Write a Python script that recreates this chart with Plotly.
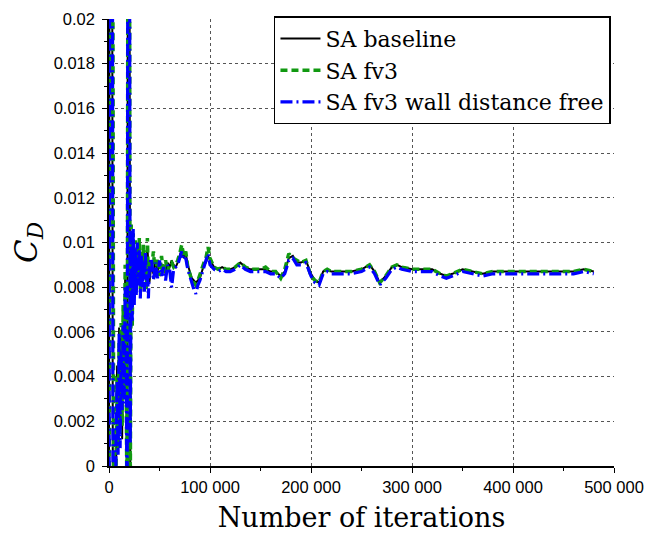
import plotly.graph_objects as go

# ---------------- data ----------------
iterations = [
    0, 1000, 2000, 3000, 4000, 5000, 6000, 7000, 8000, 9000,
    10000, 11000, 12000, 13000, 14000, 15000, 16000, 17000, 18000, 19000,
    20000, 21000, 22000, 23000, 24000, 25000, 26000, 27000, 28000, 29000,
    30000, 31000, 32000, 33000, 34000, 35000, 36000, 37000, 38000, 39000,
    40000,
    42000, 44000, 46000, 48000, 50000, 52000, 54000, 56000, 58000, 60000,
    62000, 64000, 66000, 68000, 70000, 72000, 74000, 76000, 78000, 80000,
    82000, 84000, 86000, 88000, 90000, 92000, 94000, 96000, 98000, 100000,
    104000, 108000, 112000, 116000, 120000,
    125000, 130000, 135000, 140000, 145000, 150000, 155000, 160000, 165000, 170000,
    174000, 178000, 182000, 186000, 190000,
    195000, 200000,
    204000, 208000, 212000, 216000, 220000,
    230000, 240000, 250000,
    258000, 263000, 268000, 274000, 280000, 285000, 290000,
    300000, 310000, 320000,
    328000, 334000,
    340000, 350000, 360000, 370000, 380000, 390000, 400000, 410000, 420000, 430000,
    440000, 450000, 460000, 470000, 480000,
]

cd_baseline = [
    0.0, 0.05, 0.045, 0.03, -0.01, -0.015, -0.005, 0.001, 0.0045, 0.0015,
    0.0062, 0.0022, 0.0058, 0.0012, 0.0068, 0.0035, 0.0085, 0.0048, -0.003, 0.04,
    0.035, 0.0, 0.0105, 0.0075, 0.0098, 0.0082, 0.0095, 0.0085, 0.0093, 0.0099,
    0.0084, 0.0092, 0.0078, 0.0090, 0.0086, 0.0094, 0.0088, 0.0091, 0.0098, 0.0087,
    0.0082,
    0.0090, 0.0086, 0.0092, 0.0087, 0.0091, 0.0088, 0.0090, 0.0086, 0.0091, 0.0089,
    0.0092, 0.0090, 0.0089, 0.0091, 0.0094, 0.0097, 0.0093, 0.0095, 0.0090, 0.0087,
    0.0084, 0.0083, 0.0082, 0.0083, 0.0084, 0.0087, 0.0090, 0.0091, 0.0094, 0.0092,
    0.0089, 0.0088, 0.0089, 0.0088, 0.0088,
    0.0089, 0.0091, 0.0089, 0.0088, 0.0088, 0.0088, 0.0088, 0.0087, 0.0087, 0.0085,
    0.0087, 0.0093, 0.0094, 0.0091, 0.0091,
    0.0092, 0.0086,
    0.0083, 0.0082, 0.0087, 0.0088, 0.0087,
    0.0087, 0.0087, 0.0088,
    0.0090, 0.0087, 0.0082, 0.0085, 0.0089, 0.0090, 0.0089,
    0.0088, 0.0088, 0.0088,
    0.0086, 0.0085,
    0.0086, 0.0088, 0.0087, 0.0086, 0.0087, 0.0087, 0.0087, 0.0087, 0.0087, 0.0087,
    0.0087, 0.0087, 0.0087, 0.0088, 0.0087,
]

cd_fv3 = [
    -0.005, 0.04, 0.05, 0.045, 0.0, -0.01, -0.004, 0.0005, 0.004, 0.0008,
    0.0055, 0.0015, 0.0064, 0.0018, 0.0072, 0.003, 0.009, 0.0042, -0.004, 0.038,
    0.04, -0.002, 0.0108, 0.0062, 0.0104, 0.0078, 0.0101, 0.0080, 0.0097, 0.0086,
    0.0102, 0.0079, 0.0096, 0.0083, 0.0099, 0.0085, 0.0095, 0.0079, 0.0102, 0.0084,
    0.0093,
    0.0088, 0.0096, 0.0084, 0.0093, 0.0085, 0.0094, 0.0086, 0.0092, 0.0087, 0.0090,
    0.0091, 0.0089, 0.0090, 0.0092, 0.0095, 0.0099, 0.0094, 0.0096, 0.0089, 0.0086,
    0.0083, 0.0082, 0.0081, 0.0083, 0.0086, 0.0088, 0.0091, 0.0093, 0.0098, 0.0093,
    0.0089, 0.0088, 0.0089, 0.0088, 0.0088,
    0.0089, 0.0091, 0.0089, 0.0088, 0.0088, 0.0088, 0.0089, 0.0087, 0.0087, 0.0084,
    0.0088, 0.0095, 0.0093, 0.0092, 0.0091,
    0.0092, 0.0085,
    0.0083, 0.0082, 0.0087, 0.0088, 0.0087,
    0.0087, 0.0087, 0.0088,
    0.0090, 0.0087, 0.0082, 0.0085, 0.0089, 0.0090, 0.0089,
    0.0088, 0.0088, 0.0088,
    0.0086, 0.0085,
    0.0086, 0.0088, 0.0087, 0.0086, 0.0087, 0.0087, 0.0087, 0.0087, 0.0087, 0.0087,
    0.0087, 0.0087, 0.0087, 0.0088, 0.0087,
]

cd_fv3_wdf = [
    -0.008, 0.042, 0.05, 0.042, -0.002, -0.012, -0.006, 0.0012, 0.0038, 0.0005,
    0.0060, 0.0008, 0.0052, 0.0025, 0.0063, 0.0028, 0.0080, 0.0055, -0.004, 0.042,
    0.038, 0.001, 0.0100, 0.0065, 0.0106, 0.0072, 0.0098, 0.0076, 0.0100, 0.0081,
    0.0097, 0.0075, 0.0094, 0.0080, 0.0092, 0.0078, 0.0096, 0.0083, 0.0088, 0.0075,
    0.0090,
    0.0093, 0.0083, 0.0091, 0.0084, 0.0092, 0.0085, 0.0089, 0.0083, 0.0090, 0.0088,
    0.0080, 0.0088, 0.0089, 0.0090, 0.0093, 0.0096, 0.0092, 0.0093, 0.0088, 0.0085,
    0.0081, 0.0079, 0.0077, 0.0081, 0.0083, 0.0086, 0.0089, 0.0092, 0.0095, 0.0090,
    0.0088, 0.0087, 0.0088, 0.0087, 0.0087,
    0.0088, 0.0090, 0.0088, 0.0087, 0.0087, 0.0087, 0.0087, 0.0086, 0.0086, 0.0084,
    0.0086, 0.0092, 0.0093, 0.0090, 0.0090,
    0.0091, 0.0085,
    0.0082, 0.0081, 0.0086, 0.0087, 0.0086,
    0.0086, 0.0086, 0.0087,
    0.0089, 0.0086, 0.0081, 0.0084, 0.0088, 0.0089, 0.0088,
    0.0087, 0.0087, 0.0087,
    0.0085, 0.0084,
    0.0085, 0.0087, 0.0086, 0.0085, 0.0086, 0.0086, 0.0086, 0.0086, 0.0086, 0.0086,
    0.0086, 0.0086, 0.0086, 0.0087, 0.0086,
]

series_names = ["SA baseline", "SA fv3", "SA fv3 wall distance free"]

y_tick_values = [0, 0.002, 0.004, 0.006, 0.008, 0.01, 0.012, 0.014, 0.016, 0.018, 0.02]
y_tick_labels = ["0", "0.002", "0.004", "0.006", "0.008", "0.01", "0.012", "0.014", "0.016", "0.018", "0.02"]

assert len(iterations) == len(cd_baseline) == len(cd_fv3) == len(cd_fv3_wdf)

SERIF = "DejaVu Serif, Liberation Serif, serif"
SANS = "Liberation Sans, Arial, sans-serif"

fig = go.Figure()
fig.add_trace(go.Scatter(x=iterations, y=cd_baseline, mode="lines", name=series_names[0],
                         line=dict(color="black", width=2)))
fig.add_trace(go.Scatter(x=iterations, y=cd_fv3, mode="lines", name=series_names[1],
                         line=dict(color="#119911", width=3.5, dash="7px,4px")))
fig.add_trace(go.Scatter(x=iterations, y=cd_fv3_wdf, mode="lines", name=series_names[2],
                         line=dict(color="#0000ff", width=3.2, dash="12px,4px,2px,4px")))

axis_common = dict(
    showgrid=True, gridcolor="#555555", gridwidth=1, griddash="dot",
    showline=True, linecolor="black", linewidth=1.5,
    ticks="outside", ticklen=5, tickcolor="black",
    zeroline=False, automargin=False,
    ticklabeloverflow="allow",
    tickfont=dict(family=SANS, size=16.5, color="black"),
)

# the page body adds an offset of a few pixels; margins compensate for it
fig.update_layout(
    width=665, height=539,
    margin=dict(l=101, r=59, t=8, b=81),
    plot_bgcolor="white", paper_bgcolor="white",
    separators=". ",
    showlegend=True,
    legend=dict(
        x=0.994, y=1.006, xanchor="right", yanchor="top",
        bgcolor="white", bordercolor="black", borderwidth=1.5,
        font=dict(family=SERIF, size=22, color="black"),
        tracegroupgap=0, itemwidth=40,
    ),
    xaxis=dict(
        range=[0, 500000], dtick=100000, tickformat=",d",
        minor=dict(dtick=50000, ticks="outside", ticklen=3, tickcolor="black", showgrid=False),
        title=dict(text="Number of iterations", font=dict(family=SERIF, size=27, color="black"), standoff=14),
        **axis_common,
    ),
    yaxis=dict(
        range=[0, 0.02], tickmode="array", tickvals=y_tick_values, ticktext=y_tick_labels,
        ticklabelstandoff=4,
        minor=dict(tickmode="linear", tick0=0, dtick=0.001, ticks="outside", ticklen=3, tickcolor="black", showgrid=False),
        title=dict(text="<i>C</i><sub><i>D</i></sub>", font=dict(family=SERIF, size=31, color="black"), standoff=14),
        **axis_common,
    ),
)

fig.write_html("out.html")
